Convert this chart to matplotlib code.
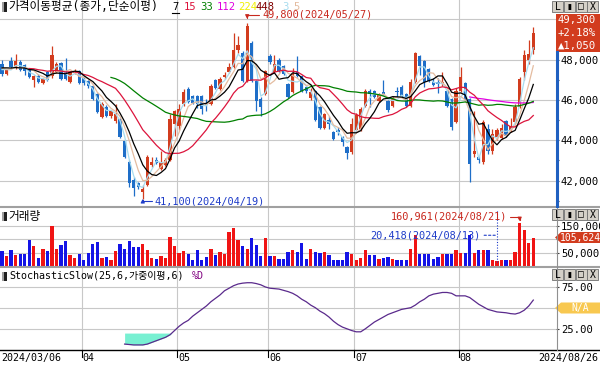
import numpy as np
import pandas as pd
import matplotlib
matplotlib.use("Agg")
import matplotlib.pyplot as plt
from matplotlib.patches import Rectangle, Polygon
from matplotlib.lines import Line2D

plt.rcParams['font.family'] = ['DejaVu Sans Mono', 'Noto Sans CJK KR']

# daily candles 2024/03/06 .. 2024/08/26 (118 sessions)
opens = [47800, 47300, 47950, 47600, 47900, 47750, 47500, 47000, 47200, 46850,
         47400, 47200, 47400, 47850, 47450, 46900, 47350, 47450, 47150, 46950,
         46700, 46300, 45150, 45650, 45200, 44950, 45050, 43950, 42900, 42050,
         41900, 41450, 41800, 42750, 43000, 42550, 42750, 43000, 44800, 44700,
         45800, 46550, 46200, 46200, 46200, 45800, 45800, 47000, 46550, 47150,
         47400, 47650, 48450, 48300, 46950, 48800, 46950, 46050, 46300, 48150,
         47400, 48000, 47700, 46800, 46400, 47400, 47200, 46650, 46100, 46450,
         45650, 44600, 45000, 44400, 44500, 44150, 43650, 43400, 44500, 44550,
         45700, 46450, 46450, 45950, 46400, 45950, 45700, 46450, 46650, 46300,
         45700, 46900, 48150, 47950, 47550, 46900, 46850, 46800, 46450, 46050,
         44900, 46450, 46850, 46050, 43300, 43150, 42900, 44550, 43450, 44150,
         44100, 44950, 44450, 44900, 45650, 47400, 48000, 48450]
highs = [47970, 47550, 48130, 48250, 48000, 47800, 47550, 47250, 47300, 47100,
         47450, 48650, 47900, 47900, 48050, 47450, 47550, 47500, 47200, 47000,
         46750, 46350, 45900, 45750, 45500, 45800, 45100, 44000, 43000, 42150,
         41950, 41800, 43250, 43150, 43150, 43450, 43100, 45300, 45500, 45800,
         46550, 46650, 46250, 46250, 46250, 46050, 46800, 47050, 47150, 47400,
         47850, 49300, 49150, 48400, 49800, 48900, 47000, 46150, 47500, 48250,
         48200, 48050, 47750, 46850, 47600, 48150, 47250, 46700, 46600, 46500,
         45700, 45350, 45200, 44450, 44650, 44200, 43700, 45100, 45350, 45650,
         46550, 46550, 46500, 46350, 47000, 46000, 46200, 46650, 46750, 46350,
         47050, 48350, 48200, 48000, 47600, 47100, 47100, 47400, 46500, 46100,
         46600, 47650, 46900, 46100, 45450, 43200, 45000, 44800, 44550, 44600,
         44800, 45000, 45100, 45800, 47150, 48450, 48950, 49600]
lows = [47170, 47250, 47600, 47550, 47450, 47250, 47100, 46650, 46850, 46800,
        46950, 47100, 47350, 47000, 47000, 46850, 47300, 46800, 46750, 46600,
        46000, 45350, 45100, 45150, 45100, 44850, 44100, 43100, 41700, 41250,
        41600, 41100, 41750, 42650, 42800, 42500, 42700, 42950, 44200, 44500,
        45700, 45850, 45800, 45600, 45300, 45450, 45750, 46550, 46500, 47050,
        47350, 47600, 48300, 46900, 46900, 46900, 45450, 45200, 46250, 47800,
        47350, 47400, 47250, 46100, 46350, 47150, 46400, 46350, 46000, 44950,
        44550, 44550, 44550, 44000, 44250, 43700, 43050, 43300, 44450, 44450,
        45650, 45650, 46100, 45900, 46250, 45400, 45650, 46150, 46150, 45650,
        45650, 46850, 47250, 46650, 46900, 46700, 46350, 46700, 45650, 44500,
        44850, 46400, 46000, 41950, 43150, 42850, 42800, 43300, 43300, 44000,
        44050, 44150, 44400, 44850, 45600, 47000, 47800, 48250]
closes = [47300, 47500, 47650, 47950, 47500, 47450, 47150, 47200, 46900, 47050,
          47000, 48200, 47800, 47050, 47050, 47400, 47450, 46850, 46850, 46700,
          46050, 45400, 45800, 45200, 45450, 45300, 44150, 43150, 41900, 41650,
          41700, 41600, 43150, 42900, 42850, 42900, 43000, 45050, 45450, 45550,
          46400, 45900, 45850, 45800, 45550, 45750, 46700, 46600, 47050, 47200,
          47650, 48450, 48700, 46950, 49650, 46950, 45950, 45650, 47450, 47900,
          47800, 47450, 47300, 46150, 47300, 47200, 46450, 46450, 46400, 45000,
          44600, 45300, 44800, 44050, 44400, 43900, 43350, 44800, 45250, 45550,
          46450, 46300, 46150, 46300, 46300, 45500, 46100, 46400, 46200, 45700,
          46900, 48300, 47700, 46900, 46950, 46750, 46800, 46900, 45700, 44650,
          46450, 47150, 46050, 42800, 43450, 43000, 44900, 43450, 44300, 44500,
          44600, 44200, 44700, 45650, 47050, 48200, 48250, 49300]
# closes of the 8 sessions before the window (only feed the moving averages)
pre_closes = [47400, 47600, 47500, 47700, 47800, 47600, 47500, 47700]

volume_k = [56, 36, 58, 40, 46, 44, 96, 73, 31, 65,
            55, 148, 65, 77, 92, 40, 31, 46, 23, 48,
            83, 89, 31, 33, 24, 56, 83, 64, 94, 71,
            71, 81, 61, 31, 27, 36, 31, 108, 73, 48,
            56, 43, 24, 58, 24, 33, 65, 40, 51, 44,
            126, 140, 96, 73, 65, 103, 77, 36, 103, 36,
            36, 27, 27, 51, 58, 51, 86, 27, 65, 52,
            48, 52, 40, 24, 24, 24, 52, 46, 24, 31,
            58, 40, 40, 27, 31, 33, 27, 21, 21, 21,
            65, 114, 46, 46, 44, 27, 33, 44, 46, 44,
            58, 48, 48, 114, 48, 58, 58, 58, 21, 20.418,
            22, 23, 22, 52, 160.961, 133, 85, 105.624]

# Stochastic slow %D, from session 27 on
stoch_start = 27
stoch_d = [7, 6.5, 6, 6, 6, 7, 9, 11, 13, 15,
           18, 23, 28, 32, 35, 40, 44, 48, 52, 57,
           61, 65, 70, 73, 76, 78, 79, 79.5, 79.5, 78.5,
           77, 74.5, 73, 72.5, 72, 70.5, 69, 67, 64, 60,
           57, 53, 50, 46, 43, 39, 34, 30, 27, 25,
           23, 21.5, 21.5, 25, 29, 33, 36, 39, 42, 44,
           46, 48, 49, 50, 53, 57, 60, 64, 66, 67,
           68, 68, 67, 64, 64, 64, 62, 58, 54, 51,
           48, 46.5, 45, 44.5, 44, 43, 42.5, 44, 47, 52,
           59]

month_starts = [18, 39, 59, 78, 101]
month_labels = ['04', '05', '06', '07', '08']
ma_periods = [3, 5, 112, 33, 15, 7, 224, 448]
ma_colors = ['#a8dcef', '#e4bca0', '#e000e0', '#008000', '#dc143c', '#000000', '#f0f000', '#800000']

RED = '#d23c1e'
BLUE = '#1e6ec8'
GRID = '#c8c8c8'
W, H = 600, 366

fig = plt.figure(figsize=(6, 3.66), dpi=100)


def px_axes(x0, y0, x1, y1):
    return fig.add_axes([x0 / W, 1 - y1 / H, (x1 - x0) / W, (y1 - y0) / H])


def fx(x):
    return x / W


def fy(y):
    return 1 - y / H


ax = px_axes(0, 0, 556, 206)
axv = px_axes(0, 208, 556, 266)
axs = px_axes(0, 268, 556, 349.5)

for a in (ax, axv, axs):
    a.set_xlim(-0.44, 122.0)
    for s in a.spines.values():
        s.set_visible(False)
    a.tick_params(axis='x', bottom=False, labelbottom=False)
    a.yaxis.tick_right()
    a.tick_params(axis='y', which='both', direction='out', length=2.5, width=0.8,
                  pad=1, labelsize=7.6, color='#404040')
    for m in month_starts:
        a.axvline(m - 0.45, color=GRID, lw=0.8, zorder=0)

x = np.arange(len(closes))
o = np.array(opens)
h = np.array(highs)
l = np.array(lows)
c = np.array(closes)
up = c >= o
cols = np.where(up, RED, BLUE)

# price panel
ax.set_ylim(40737, 50950)
ax.set_yticks([42000, 44000, 46000, 48000, 50000])
ax.set_yticklabels(['42,000', '44,000', '46,000', '48,000', ''])
ax.set_yticks(range(41000, 51000, 2000), minor=True)
ax.tick_params(axis='y', which='minor', length=1.8)
ax.grid(axis='y', which='major', color=GRID, lw=0.8, zorder=0)

ax.vlines(x, l, h, colors=cols, lw=0.9, zorder=2)
ax.bar(x, np.maximum(np.abs(c - o), 60), bottom=np.minimum(o, c), width=0.72,
       color=cols, lw=0, zorder=2)

full = pd.Series(pre_closes + closes, dtype=float)
for p, col in zip(ma_periods, ma_colors):
    ma = full.rolling(p).mean().iloc[len(pre_closes):].to_numpy()
    ax.plot(x, ma, color=col, lw=0.9, zorder=3)

ann_red = '#c8281e'
ann_blue = '#1e3cc8'
ax.annotate('49,800(2024/05/27)', xy=(54, highs[54]), xytext=(15, 8.5),
            textcoords='offset pixels', ha='left', va='center', color=ann_red,
            fontsize=7.4, zorder=5,
            arrowprops=dict(arrowstyle='-|>,head_length=0.3,head_width=0.15', color=ann_red,
                            lw=0.8, shrinkA=0, shrinkB=3,
                            connectionstyle='angle,angleA=0,angleB=90,rad=0'))
ax.annotate('41,100(2024/04/19)', xy=(31, lows[31]), xytext=(12, -2.5),
            textcoords='offset pixels', ha='left', va='center', color=ann_blue,
            fontsize=7.4, zorder=5,
            arrowprops=dict(arrowstyle='-|>,head_length=0.3,head_width=0.15', color=ann_blue,
                            lw=0.8, shrinkA=0, shrinkB=0,
                            connectionstyle='angle,angleA=0,angleB=90,rad=0'))

# volume panel
vol = np.array(volume_k) * 1000
axv.set_ylim(0, 216400)
axv.set_yticks([50000, 100000, 150000])
axv.set_yticklabels(['50,000', '', '150,000'])
axv.grid(axis='y', color=GRID, lw=0.8, zorder=0)
axv.bar(x, vol, width=0.72, color=np.where(up, '#f01414', '#1414e6'), lw=0, zorder=2)
axv.annotate('160,961(2024/08/21)', xy=(114, vol[114]), xytext=(-12, 6),
             textcoords='offset pixels', ha='right', va='center', color=ann_red,
             fontsize=7.4, zorder=5,
             arrowprops=dict(arrowstyle='-|>,head_length=0.3,head_width=0.15', color=ann_red,
                             lw=0.8, shrinkA=0, shrinkB=1,
                             connectionstyle='angle,angleA=0,angleB=90,rad=0'))
axv.annotate('20,418(2024/08/13)', xy=(109, 0.53), xycoords=('data', 'axes fraction'),
             xytext=(-17, 0), textcoords='offset pixels', ha='right', va='center',
             color=ann_blue, fontsize=7.4, zorder=5,
             arrowprops=dict(arrowstyle='-', color=ann_blue, lw=0.8, ls=(0, (2, 2)),
                             shrinkA=1, shrinkB=0))
axv.plot([109, 109], [0.07, 0.97], transform=axv.get_xaxis_transform(),
         color=ann_blue, lw=0.8, ls=(0, (1, 1.5)), zorder=4)

# stochastic panel
xs = np.arange(stoch_start, stoch_start + len(stoch_d))
d = np.array(stoch_d, dtype=float)
axs.set_ylim(0.6, 96.9)
axs.set_yticks([25, 50, 75])
axs.set_yticklabels(['25.00', '', '75.00'])
axs.grid(axis='y', color=GRID, lw=0.8, zorder=0)
axs.fill_between(xs, d, 20, where=d < 20, interpolate=True, color='#78f0d2', lw=0, zorder=1)
axs.plot(xs, d, color='#5a2a8c', lw=0.9, zorder=3)

# date axis
xt = axs.get_xaxis_transform()
for m, lab in zip(month_starts, month_labels):
    axs.plot([m - 0.45, m - 0.45], [0, -0.09], transform=xt, clip_on=False, color='black', lw=0.8)
    axs.text(m - 0.2, -0.1, lab, transform=xt, ha='left', va='center', fontsize=7.2)
fig.text(fx(1), fy(357.5), '2024/03/06', ha='left', va='center', fontsize=7.2)
fig.text(fx(598), fy(357.5), '2024/08/26', ha='right', va='center', fontsize=7.2)

# frame lines
fig.add_artist(Line2D([0, 1], [fy(207), fy(207)], color='#a0a0a0', lw=1.5))
fig.add_artist(Line2D([0, 1], [fy(267), fy(267)], color='#a0a0a0', lw=1.5))
fig.add_artist(Line2D([0, 1], [fy(349.8), fy(349.8)], color='black', lw=1.0))
fig.add_artist(Line2D([fx(556.5)] * 2, [fy(208), fy(349.8)], color='#909090', lw=0.8))
fig.add_artist(Line2D([fx(556.5)] * 2, [fy(52), fy(206)], color='#2060c0', lw=2.2))

# current price box
fig.add_artist(Rectangle((fx(556), fy(52)), 44 / W, 38 / H, transform=fig.transFigure,
                         fc=RED, ec='none'))
for yy, t in zip([20, 33, 46], ['49,300', '+2.18%', '▲1,050']):
    fig.text(fx(558), fy(yy), t, ha='left', va='center', color='white', fontsize=7.6)


def tag(yc, text, fc):
    hh = 11
    pts = [(555, yc), (561, yc - hh / 2), (600, yc - hh / 2), (600, yc + hh / 2), (561, yc + hh / 2)]
    fig.add_artist(Polygon([(fx(a), fy(b)) for a, b in pts], closed=True,
                           transform=fig.transFigure, fc=fc, ec='none'))
    fig.text(fx(580), fy(yc), text, ha='center', va='center', color='white', fontsize=7.0)


tag(237.5, '105,624', RED)
tag(308, 'N/A', '#f8c850')


def buttons(ytop):
    for k, ch in enumerate(['L', '▮', '□', 'X']):
        x0 = 552 + 11.8 * k
        fig.add_artist(Rectangle((fx(x0), fy(ytop + 11)), 11 / W, 11 / H, transform=fig.transFigure,
                                 fc='#d4d0c8', ec='#707070', lw=0.6))
        fig.text(fx(x0 + 5.5), fy(ytop + 5.5), ch, ha='center', va='center', fontsize=7)


buttons(1)
buttons(209)
buttons(269)


def icon(yc):
    fig.add_artist(Rectangle((fx(2), fy(yc + 4.5)), 5 / W, 9 / H, transform=fig.transFigure,
                             fc='#a0a0a0', ec='none'))
    fig.add_artist(Rectangle((fx(4), fy(yc + 4.5)), 3 / W, 9 / H, transform=fig.transFigure,
                             fc='#202020', ec='none'))


# panel titles
icon(7)
fig.text(fx(8), fy(7), '가격이동평균(종가,단순이평)', ha='left', va='center', fontsize=8.4)
for xx, t, col in zip([172, 184, 200, 217, 238, 255, 282, 293],
                      ['7', '15', '33', '112', '224', '448', '3', '5'],
                      ['#000000', '#dc143c', '#008000', '#e000e0', '#f0f000', '#800000',
                       '#a8dcef', '#e4bca0']):
    fig.text(fx(xx), fy(7), t, ha='left', va='center', fontsize=7.6, color=col)
fig.add_artist(Line2D([fx(172), fx(179)], [fy(13), fy(13)], color='black', lw=0.8))

icon(216.5)
fig.text(fx(8), fy(216.5), '거래량', ha='left', va='center', fontsize=8.4)
icon(276)
fig.text(fx(9), fy(276), 'StochasticSlow(25,6,가중이평,6)', ha='left', va='center', fontsize=7.2)
fig.text(fx(192), fy(276), '%D', ha='left', va='center', fontsize=7.2, color='#800080')

fig.savefig('out.png', dpi=100)
